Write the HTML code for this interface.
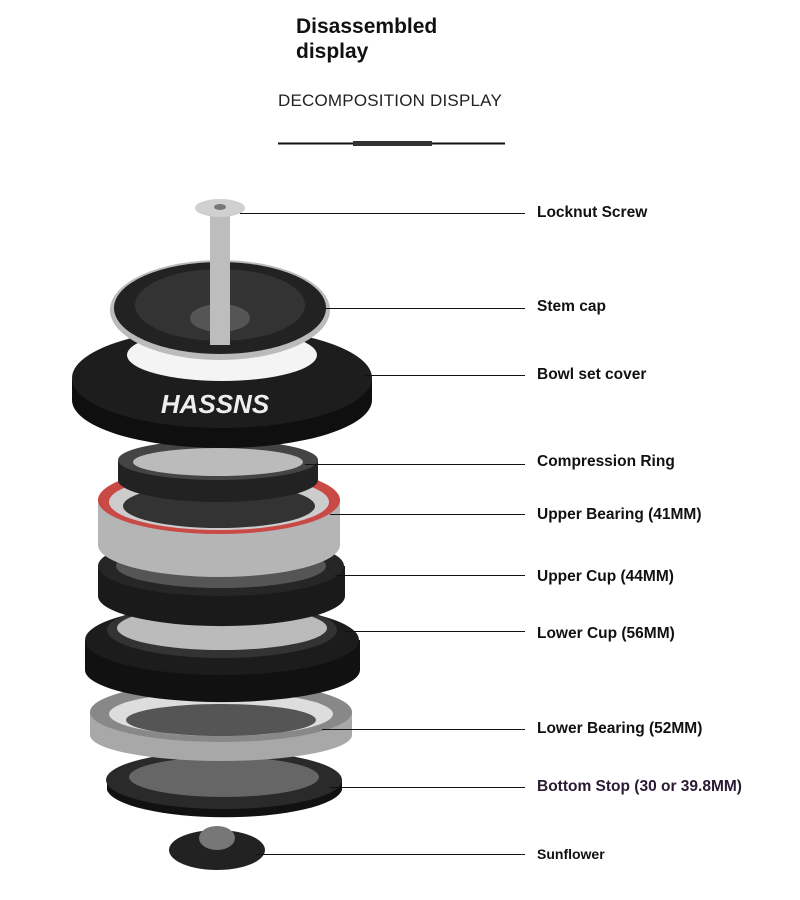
<!DOCTYPE html>
<html><head><meta charset="utf-8"><style>
body{margin:0;width:800px;height:900px;background:#fff;overflow:hidden;position:relative;font-family:"Liberation Sans",sans-serif}
.t{position:absolute;left:296px;top:14px;font-size:21px;font-weight:bold;line-height:25px;color:#111}
.s{position:absolute;left:278px;top:91px;font-size:17px;color:#222;letter-spacing:0.2px}
.l{position:absolute;left:537px;font-size:15.5px;font-weight:bold;color:#111}
</style></head><body>
<div class="t">Disassembled<br>display</div>
<div class="s">DECOMPOSITION DISPLAY</div>
<svg width="800" height="900" style="position:absolute;left:0;top:0">
<line x1="278" y1="143.5" x2="505" y2="143.5" stroke="#111" stroke-width="2"/>
<rect x="353" y="141" width="79" height="5" fill="#333"/>
<!-- sunflower -->
<ellipse cx="217" cy="850" rx="48" ry="20" fill="#222"/>
<ellipse cx="217" cy="838" rx="18" ry="12" fill="#777"/>
<!-- bottom stop -->
<path d="M107 780 L107 790 A118 30 0 0 0 342 790 L342 780 Z" fill="#111"/>
<ellipse cx="224" cy="780" rx="118" ry="29" fill="#2a2a2a"/>
<ellipse cx="224" cy="777" rx="95" ry="20" fill="#666"/>
<!-- lower bearing -->
<path d="M90 712 L90 735 A131 26 0 0 0 352 735 L352 712 Z" fill="#a8a8a8"/>
<ellipse cx="221" cy="712" rx="131" ry="30" fill="#888"/>
<ellipse cx="221" cy="714" rx="112" ry="22" fill="#ddd"/>
<ellipse cx="221" cy="720" rx="95" ry="16" fill="#555"/>
<!-- lower cup -->
<path d="M85 640 L85 670 A137 32 0 0 0 360 670 L360 640 Z" fill="#111"/>
<ellipse cx="222" cy="640" rx="137" ry="35" fill="#1c1c1c"/>
<ellipse cx="222" cy="630" rx="115" ry="28" fill="#333"/>
<ellipse cx="222" cy="628" rx="105" ry="22" fill="#bbb"/>
<!-- upper cup -->
<path d="M98 566 L98 596 A123 30 0 0 0 345 596 L345 566 Z" fill="#1a1a1a"/>
<ellipse cx="221" cy="566" rx="123" ry="30" fill="#262626"/>
<ellipse cx="221" cy="566" rx="105" ry="22" fill="#555"/>
<!-- upper bearing -->
<path d="M98 500 L98 545 A121 32 0 0 0 340 545 L340 500 Z" fill="#b5b5b5"/>
<ellipse cx="219" cy="500" rx="121" ry="34" fill="#c94a45"/>
<ellipse cx="219" cy="502" rx="110" ry="28" fill="#ccc"/>
<ellipse cx="219" cy="506" rx="96" ry="22" fill="#333"/>
<!-- compression ring -->
<path d="M118 460 L118 480 A100 22 0 0 0 318 480 L318 460 Z" fill="#222"/>
<ellipse cx="218" cy="460" rx="100" ry="20" fill="#444"/>
<ellipse cx="218" cy="462" rx="85" ry="14" fill="#bbb"/>
<!-- bowl cover -->
<path d="M72 380 L72 400 A150 48 0 0 0 372 400 L372 380 Z" fill="#0f0f0f"/>
<ellipse cx="222" cy="378" rx="150" ry="50" fill="#1d1d1d"/>
<ellipse cx="222" cy="355" rx="95" ry="26" fill="#f4f4f4"/>
<text x="215" y="413" font-size="26" font-weight="bold" fill="#eee" text-anchor="middle" font-style="italic" font-family="Liberation Sans">HASSNS</text>
<!-- stem cap -->
<ellipse cx="220" cy="310" rx="110" ry="50" fill="#bbb"/>
<ellipse cx="220" cy="308" rx="106" ry="46" fill="#222"/>
<ellipse cx="220" cy="305" rx="85" ry="36" fill="#333"/>
<ellipse cx="220" cy="318" rx="30" ry="14" fill="#555"/>
<!-- screw -->
<rect x="210" y="210" width="20" height="135" fill="#bdbdbd"/>
<ellipse cx="220" cy="208" rx="25" ry="9" fill="#d0d0d0"/>
<ellipse cx="220" cy="207" rx="6" ry="3" fill="#777"/>
<g stroke="#111" stroke-width="1">
<line x1="240" y1="213.5" x2="525" y2="213.5"/>
<line x1="325" y1="308.5" x2="525" y2="308.5"/>
<line x1="365" y1="375.5" x2="525" y2="375.5"/>
<line x1="305" y1="464.5" x2="525" y2="464.5"/>
<line x1="330" y1="514.5" x2="525" y2="514.5"/>
<line x1="335" y1="575.5" x2="525" y2="575.5"/>
<line x1="345" y1="631.5" x2="525" y2="631.5"/>
<line x1="322" y1="729.5" x2="525" y2="729.5"/>
<line x1="330" y1="787.5" x2="525" y2="787.5"/>
<line x1="255" y1="854.5" x2="525" y2="854.5"/>
</g>
</svg>
<div class="l" style="top:204px">Locknut Screw</div>
<div class="l" style="top:298px">Stem cap</div>
<div class="l" style="top:366px">Bowl set cover</div>
<div class="l" style="top:453px">Compression Ring</div>
<div class="l" style="top:506px">Upper Bearing (41MM)</div>
<div class="l" style="top:568px">Upper Cup (44MM)</div>
<div class="l" style="top:625px">Lower Cup (56MM)</div>
<div class="l" style="top:720px">Lower Bearing (52MM)</div>
<div class="l" style="top:778px;color:#2a1a33">Bottom Stop (30 or 39.8MM)</div>
<div class="l" style="top:846px;font-size:14px">Sunflower</div>
</body></html>
